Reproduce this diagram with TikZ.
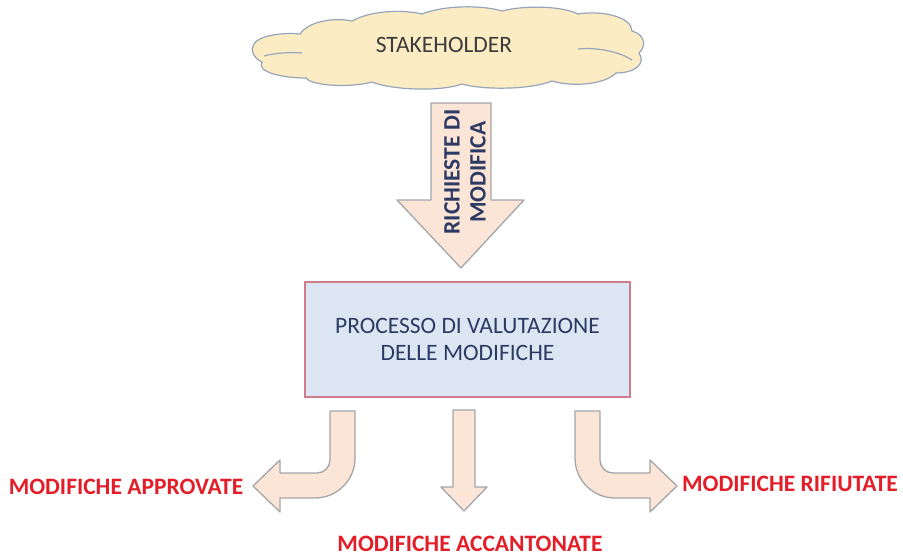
\documentclass[tikz,border=0pt]{standalone}
\usepackage{fontspec}
\setmainfont{Carlito}
\definecolor{cloudfill}{RGB}{252,236,196}
\definecolor{clouddraw}{RGB}{150,165,185}
\definecolor{arrfill}{RGB}{251,229,214}
\definecolor{arrdraw}{RGB}{165,165,170}
\definecolor{boxfill}{RGB}{220,230,242}
\definecolor{boxdraw}{RGB}{205,125,140}
\definecolor{navy}{RGB}{45,58,100}
\definecolor{labred}{RGB}{228,30,40}
\definecolor{darktxt}{RGB}{60,60,60}
\tikzset{
  shapearrow/.style={fill=arrfill,draw=arrdraw,line width=1.3pt,line join=round},
  cloudline/.style={draw=clouddraw,line width=1.2pt},
  redlab/.style={text=labred,font=\fontsize{23.5}{27}\selectfont\bfseries,inner sep=0pt},
}
\begin{document}
\begin{tikzpicture}[x=1pt,y=-1pt]
\useasboundingbox[fill=white] (0,0) rectangle (903,556);
% cloud
\draw[cloudline,fill=cloudfill] (254,44)
  .. controls (258,36) and (282,32) .. (300,34)
  .. controls (308,22) and (332,17) .. (352,21)
  .. controls (370,11) and (400,9) .. (422,14)
  .. controls (445,5) and (482,5) .. (502,11)
  .. controls (525,5) and (562,6) .. (578,14)
  .. controls (602,10) and (632,17) .. (632,31)
  .. controls (646,35) and (646,47) .. (639,53)
  .. controls (646,63) and (636,73) .. (616,73)
  .. controls (604,85) and (572,87) .. (552,81)
  .. controls (530,90) and (482,90) .. (462,84)
  .. controls (440,92) and (392,90) .. (372,82)
  .. controls (350,88) and (312,86) .. (306,78)
  .. controls (282,78) and (256,72) .. (262,62)
  .. controls (253,58) and (250,49) .. (254,44) -- cycle;
\draw[cloudline] (264,56) .. controls (275,53) and (290,52) .. (302,53);
\draw[cloudline] (578,49) .. controls (598,47) and (620,52) .. (632,60);
\node[text=darktxt,font=\fontsize{23.5}{27}\selectfont] (stake) at (444,45) {STAKEHOLDER};
% big arrow
\draw[shapearrow] (431,103) -- (491,103) -- (491,200) -- (524,200) -- (461,268) -- (397,200) -- (431,200) -- cycle;
\node[rotate=90,align=center,text=navy,font=\fontsize{23.5}{26}\selectfont\bfseries] (req) at (465,172) {RICHIESTE DI\\MODIFICA};
% box
\node[draw=boxdraw,fill=boxfill,line width=1.2pt,minimum width=325pt,minimum height=115pt,
  align=center,text=navy,font=\fontsize{23.5}{27}\selectfont] (proc) at (467.5,339.5) {PROCESSO DI VALUTAZIONE\\DELLE MODIFICHE};
% middle arrow
\draw[shapearrow] (453,410) -- (475,410) -- (475,487) -- (487,487) -- (464,511) -- (441,487) -- (453,487) -- cycle;
% right bent arrow
\draw[shapearrow] (575,411) -- (600,411) -- (600,460)
  .. controls (600,467.2) and (605.8,473) .. (613,473)
  -- (650,473) -- (650,460) -- (677,486) -- (650,512) -- (650,498) -- (615,498)
  .. controls (592.9,498) and (575,480.1) .. (575,458) -- cycle;
% left bent arrow
\draw[shapearrow] (355,411) -- (330,411) -- (330,460)
  .. controls (330,467.2) and (324.2,473) .. (317,473)
  -- (280,473) -- (280,460) -- (253,486) -- (280,512) -- (280,498) -- (315,498)
  .. controls (337.1,498) and (355,480.1) .. (355,458) -- cycle;
% labels
\node[redlab] (appr) at (126,487) {MODIFICHE APPROVATE};
\node[redlab] (rif) at (790,484) {MODIFICHE RIFIUTATE};
\node[redlab] (acc) at (470,544) {MODIFICHE ACCANTONATE};
\end{tikzpicture}
\end{document}
